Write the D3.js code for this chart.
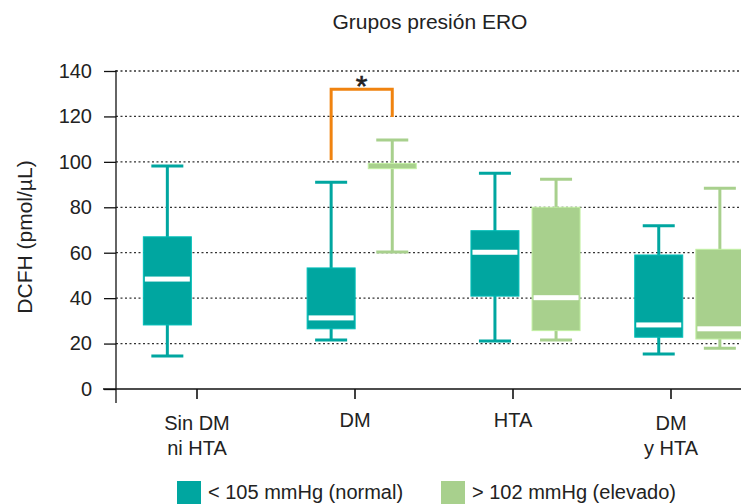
<!DOCTYPE html>
<html>
<head>
<meta charset="utf-8">
<script src="https://cdn.jsdelivr.net/npm/d3@7"></script>
<style>
  body { margin: 0; background: #fff; }
  svg text { font-family: "Liberation Sans", Arial, sans-serif; fill: #222; }
</style>
</head>
<body>
<div id="chart"></div>
<script>
var categories = ["Sin DM\nni HTA", "DM", "HTA", "DM\ny HTA"];
var seriesNames = ["< 105 mmHg (normal)", "> 102 mmHg (elevado)"];
var seriesColors = ["#00a6a0", "#a8d08d"];
var yTicks = [0, 20, 40, 60, 80, 100, 120, 140];

/* box stats per category: min, q1, median, q3, max */
var normalMin = [14.5, 21.6, 21.1, 15.4];
var normalQ1 = [28.2, 26.5, 40.9, 22.8];
var normalMed = [48.4, 31.3, 60.2, 28.2];
var normalQ3 = [67.0, 53.3, 69.7, 59.0];
var normalMax = [98.2, 91.0, 95.0, 71.9];

var elevMin = [null, 60.3, 21.6, 17.9];
var elevQ1 = [null, 97.0, 25.7, 22.0];
var elevMed = [null, 98.0, 40.2, 26.5];
var elevQ3 = [null, 99.3, 80.0, 61.5];
var elevMax = [null, 109.6, 92.3, 88.4];

/* significance bracket (DM: normal vs elevado) */
var sigCategory = "DM";
var sigTop = 132, sigLeftEnd = 100.8, sigRightEnd = 119.8;

var W = 741, H = 504;
var svg = d3.select("#chart").append("svg")
  .attr("width", W).attr("height", H);

var y = d3.scaleLinear().domain([0, 140]).range([389, 71]);
var xGroup = d3.scaleBand().domain(categories).range([116, 116 + 4 * 163.8]);
var xSeries = d3.scalePoint().domain([0, 1]).range([0, xGroup.bandwidth()]).padding(0.84);
var xTick = d3.scaleBand().domain(categories).range([118, 750]);

var boxW = 48, capW = 32;

/* gridlines */
svg.append("g").selectAll("line")
  .data(yTicks.filter(function(d) { return d > 0; }))
  .enter().append("line")
  .attr("x1", 116).attr("x2", W)
  .attr("y1", function(d) { return y(d); })
  .attr("y2", function(d) { return y(d); })
  .attr("stroke", "#333").attr("stroke-width", 1.3)
  .attr("stroke-dasharray", "2,2.5");

/* build box rows */
var boxes = [];
categories.forEach(function(c, i) {
  boxes.push({ cat: c, s: 0, min: normalMin[i], q1: normalQ1[i], med: normalMed[i], q3: normalQ3[i], max: normalMax[i] });
  if (elevMin[i] != null)
    boxes.push({ cat: c, s: 1, min: elevMin[i], q1: elevQ1[i], med: elevMed[i], q3: elevQ3[i], max: elevMax[i] });
});
function cx(d) { return xGroup(d.cat) + xSeries(d.s); }

var g = svg.append("g");
var box = g.selectAll(".box").data(boxes).enter().append("g").attr("class", "box");

box.append("line")
  .attr("x1", cx).attr("x2", cx)
  .attr("y1", function(d) { return y(d.min); })
  .attr("y2", function(d) { return y(d.max); })
  .attr("stroke", function(d) { return seriesColors[d.s]; })
  .attr("stroke-width", 3);
["min", "max"].forEach(function(k) {
  box.append("line")
    .attr("x1", function(d) { return cx(d) - capW / 2; })
    .attr("x2", function(d) { return cx(d) + capW / 2; })
    .attr("y1", function(d) { return y(d[k]); })
    .attr("y2", function(d) { return y(d[k]); })
    .attr("stroke", function(d) { return seriesColors[d.s]; })
    .attr("stroke-width", 3);
});
box.append("rect")
  .attr("x", function(d) { return cx(d) - boxW / 2; })
  .attr("width", boxW)
  .attr("y", function(d) { return y(d.q3); })
  .attr("height", function(d) { return y(d.q1) - y(d.q3); })
  .attr("fill", function(d) { return seriesColors[d.s]; })
  .attr("stroke", function(d) { return d3.color(seriesColors[d.s]).brighter(0.4); })
  .attr("stroke-width", 1);
box.filter(function(d) { return y(d.q1) - y(d.q3) > 8; })
  .append("rect")
  .attr("x", function(d) { return cx(d) - boxW / 2 + 1.5; })
  .attr("width", boxW - 3)
  .attr("y", function(d) { return y(d.med) - 2.5; })
  .attr("height", 5)
  .attr("fill", "#fff");

/* axes */
var yAxis = svg.append("g").attr("transform", "translate(116,0)")
  .call(d3.axisLeft(y).tickValues(yTicks).tickSize(12).tickPadding(12));
yAxis.select(".domain").remove();
yAxis.selectAll("line").attr("stroke", "#111").attr("stroke-width", 1.3);
yAxis.selectAll("text").style("font-size", "20px").attr("fill", "#222");

var xAxis = svg.append("g").attr("transform", "translate(0,389)")
  .call(d3.axisBottom(xTick).tickSize(10).tickFormat(""));
xAxis.select(".domain").remove();
xAxis.selectAll("line").attr("stroke", "#111").attr("stroke-width", 1.6);

svg.append("line").attr("x1", 116).attr("x2", 116)
  .attr("y1", y(140) - 1).attr("y2", 403)
  .attr("stroke", "#111").attr("stroke-width", 1.3);
svg.append("line").attr("x1", 103).attr("x2", W)
  .attr("y1", 389).attr("y2", 389)
  .attr("stroke", "#111").attr("stroke-width", 1.3);

/* category labels */
categories.forEach(function(c) {
  var lines = c.split("\n");
  var t = svg.append("text")
    .attr("x", xTick(c) + xTick.bandwidth() / 2)
    .attr("y", lines.length > 1 ? 430 : 427)
    .attr("text-anchor", "middle")
    .style("font-size", "20px");
  lines.forEach(function(l, i) {
    t.append("tspan")
      .attr("x", xTick(c) + xTick.bandwidth() / 2)
      .attr("dy", i == 0 ? 0 : 25)
      .text(l);
  });
});

/* title and y label */
svg.append("text").attr("x", 430).attr("y", 29)
  .attr("text-anchor", "middle").style("font-size", "21px")
  .text("Grupos presión ERO");
svg.append("text")
  .attr("transform", "translate(32,237) rotate(-90)")
  .attr("text-anchor", "middle").style("font-size", "21px")
  .text("DCFH (pmol/µL)");

/* significance bracket */
var bx1 = xGroup(sigCategory) + xSeries(0), bx2 = xGroup(sigCategory) + xSeries(1);
svg.append("path")
  .attr("d", "M" + bx1 + "," + y(sigLeftEnd) + "V" + y(sigTop) + "H" + bx2 + "V" + y(sigRightEnd))
  .attr("fill", "none").attr("stroke", "#f0830f").attr("stroke-width", 3);
svg.append("text")
  .attr("x", (bx1 + bx2) / 2).attr("y", 96)
  .attr("text-anchor", "middle").style("font-size", "30px")
  .attr("stroke", "#222").attr("stroke-width", 0.6)
  .text("*");

/* legend */
var legX = [177, 441];
seriesNames.forEach(function(n, i) {
  svg.append("rect").attr("x", legX[i]).attr("y", 481)
    .attr("width", 24).attr("height", 23)
    .attr("fill", seriesColors[i]);
  svg.append("text").attr("x", legX[i] + 31).attr("y", 499)
    .style("font-size", "20px").text(n);
});
</script>
</body>
</html>
